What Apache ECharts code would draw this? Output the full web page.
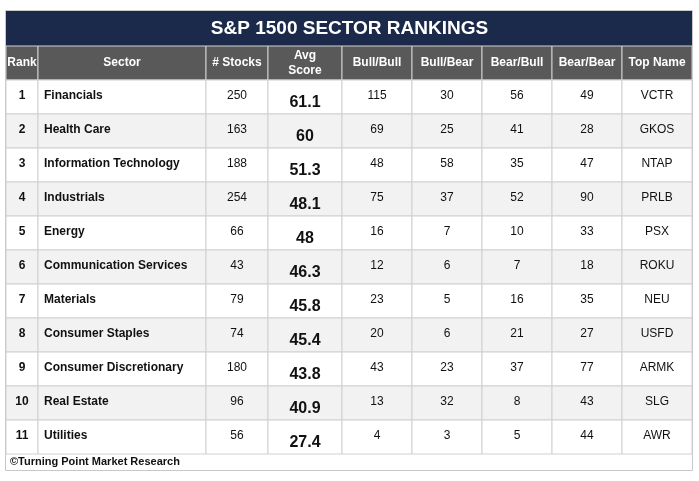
<!DOCTYPE html>
<html><head><meta charset="utf-8">
<script src="https://cdn.jsdelivr.net/npm/echarts@6/dist/echarts.min.js"></script>
<style>html,body{margin:0;padding:0;background:#fff}#c{width:699px;height:481px}</style>
</head><body><div id="c"></div>
<script>
const headers = ['Rank','Sector','# Stocks','Avg\nScore','Bull/Bull','Bull/Bear','Bear/Bull','Bear/Bear','Top Name'];
const ranks = [1,2,3,4,5,6,7,8,9,10,11];
const sectors = ['Financials','Health Care','Information Technology','Industrials','Energy','Communication Services','Materials','Consumer Staples','Consumer Discretionary','Real Estate','Utilities'];
const stocks = [250,163,188,254,66,43,79,74,180,96,56];
const avgScore = ['61.1','60','51.3','48.1','48','46.3','45.8','45.4','43.8','40.9','27.4'];
const bullBull = [115,69,48,75,16,12,23,20,43,13,4];
const bullBear = [30,25,58,37,7,6,5,6,23,32,3];
const bearBull = [56,41,35,52,10,7,16,21,37,8,5];
const bearBear = [49,28,47,90,33,18,35,27,77,43,44];
const topName = ['VCTR','GKOS','NTAP','PRLB','PSX','ROKU','NEU','USFD','ARMK','SLG','AWR'];
const colEdges = [0,32,200,262,336,406,476,546,616,686];

const cols = [ranks,sectors,stocks,avgScore,bullBull,bullBear,bearBull,bearBear,topName];
const data = [];
headers.forEach((h,c)=>data.push([c,0,h]));
for(let r=0;r<ranks.length;r++) cols.forEach((col,c)=>data.push([c,r+1,String(col[r])]));

const chart = echarts.init(document.getElementById('c'));
chart.setOption({
  animation:false,
  title:{text:'S&P 1500 SECTOR RANKINGS',left:'center',top:14,textStyle:{color:'#fff',fontSize:19,fontWeight:'bold',fontFamily:'Liberation Sans'}},
  graphic:[
    {type:'rect',z:-1,shape:{x:6,y:11,width:686,height:35},style:{fill:'#1b2a4a'}},
    {type:'rect',z:-2,shape:{x:5.5,y:10.5,width:687,height:460},style:{fill:'none',stroke:'#c8c8c8'}},
    {type:'text',left:10,top:456,style:{text:'©Turning Point Market Research',font:'bold 11px "Liberation Sans"',fill:'#111'}}
  ],
  grid:{left:6,top:46,width:686,height:408},
  xAxis:{type:'value',min:0,max:686,show:false},
  yAxis:{type:'value',min:0,max:12,inverse:true,show:false},
  series:[{
    type:'custom',data:data,
    renderItem:(params,api)=>{
      const c=api.value(0), r=api.value(1), txt=data[params.dataIndex][2];
      const p0=api.coord([colEdges[c],r]), p1=api.coord([colEdges[c+1],r+1]);
      const w=p1[0]-p0[0], h=p1[1]-p0[1];
      const header=r===0;
      const fill=header?'#595959':(r%2===0?'#f2f2f2':'#ffffff');
      let font='12px "Liberation Sans"', tx=p0[0]+w/2, ty=p0[1]+h/2, align='center';
      if(header) font='bold 12px "Liberation Sans"';
      else if(c===0||c===1) font='bold 12px "Liberation Sans"';
      if(!header&&c===1){align='left';tx=p0[0]+6;}
      if(!header&&c===3){font='bold 16px "Liberation Sans"';ty=p0[1]+h/2+6;}
      if(!header&&c!==3) ty=p0[1]+h/2-1;
      return {type:'group',children:[
        {type:'rect',shape:{x:p0[0],y:p0[1],width:w,height:h},style:{fill:fill,stroke:'#d0d0d0',lineWidth:1}},
        {type:'text',style:{text:txt,x:tx,y:ty,align:align,verticalAlign:'middle',font:font,fill:header?'#fff':'#111',lineHeight:15}}
      ]};
    }
  }]
});
</script></body></html>
